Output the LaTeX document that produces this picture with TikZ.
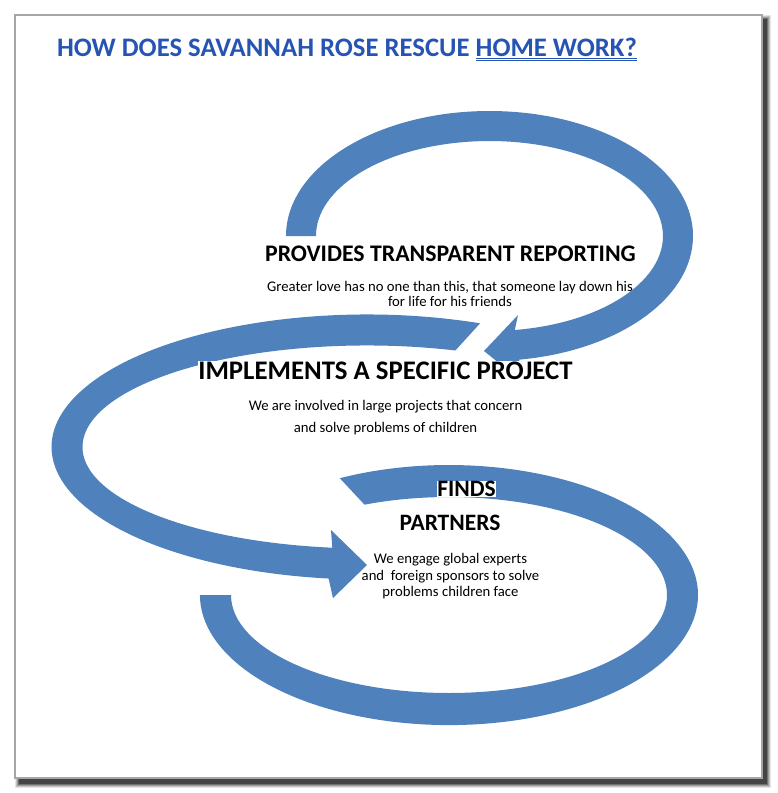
\documentclass[tikz,border=0pt]{standalone}
\usepackage{fontspec}
\setmainfont{Carlito}
\usepackage{tikz}
\usetikzlibrary{positioning}
\definecolor{bandblue}{RGB}{79,129,189}
\definecolor{titleblue}{RGB}{38,84,178}

\begin{document}
\begin{tikzpicture}[x=1pt, y=-1pt,
    band/.style={fill=bandblue},
    titletext/.style={font=\fontsize{26.7}{30}\selectfont\bfseries, text=titleblue, inner sep=0pt, anchor=base},
    heading/.style={font=\bfseries, fill=white, inner sep=0.5pt, anchor=base},
    bodytext/.style={font=\fontsize{14.7}{15.5}\selectfont, align=center, inner sep=0pt}]
    \useasboundingbox (0,0) rectangle (777,793);

    % Marco
    \foreach \d/\o in {4/0.10, 3/0.15, 2/0.20, 1/0.28, 0/0.40}
      \fill[black, opacity=\o] (19-\d,19-\d) rectangle (767+\d,784+\d);
    \draw[gray!70, line width=1.2pt, fill=white] (15,15) rectangle (762,778);

    % Flechas
    \fill[band] (286,236) arc[start angle=180, end angle=441.6, x radius=203.5, y radius=125]
      -- (520,380) -- (484,351) -- (518,315) -- (514.8,330)
      arc[start angle=441.6, end angle=180, x radius=173.5, y radius=95] -- cycle;
    \fill[band] (480.1,323.3) arc[start angle=291, end angle=97, x radius=315.5, y radius=132.5]
      -- (333,598) -- (367,565) -- (331,530) -- (332.3,547.7)
      arc[start angle=97, end angle=288.1, x radius=284.5, y radius=101.5] -- cycle;
    \fill[band] (339.8,478.2) arc[start angle=244, end angle=540, x radius=249, y radius=130]
      -- (231,595) arc[start angle=540, end angle=247.2, x radius=218, y radius=98] -- cycle;

    % Textos
    \node[titletext] (title) at (347,56.5) {HOW DOES SAVANNAH ROSE RESCUE \underline{\underline{HOME WORK?}}};

    \node[heading, font=\fontsize{23.8}{26}\selectfont\bfseries] (report) at (450.5,261.7) {PROVIDES TRANSPARENT REPORTING};
    \node[bodytext] (reportbody) at (450,294) {Greater love has no one than this, that someone lay down his\\for life for his friends};

    \node[heading, font=\fontsize{26.8}{30}\selectfont\bfseries] (project) at (385.5,379.3) {IMPLEMENTS A SPECIFIC PROJECT};
    \node[bodytext, font=\fontsize{14.7}{21.2}\selectfont] (projectbody) at (385.5,417.6) {We are involved in large projects that concern\\and solve problems of children};

    \node[heading, font=\fontsize{23.5}{26}\selectfont\bfseries] (finds) at (466.5,496.7) {FINDS};
    \node[heading, font=\fontsize{23.5}{26}\selectfont\bfseries] (partners) at (450,530) {PARTNERS};
    \node[bodytext, font=\fontsize{14.7}{16.6}\selectfont] (partnersbody) at (450.5,576.3) {We engage global experts\\and~ foreign sponsors to solve\\problems children face};
\end{tikzpicture}
\end{document}
